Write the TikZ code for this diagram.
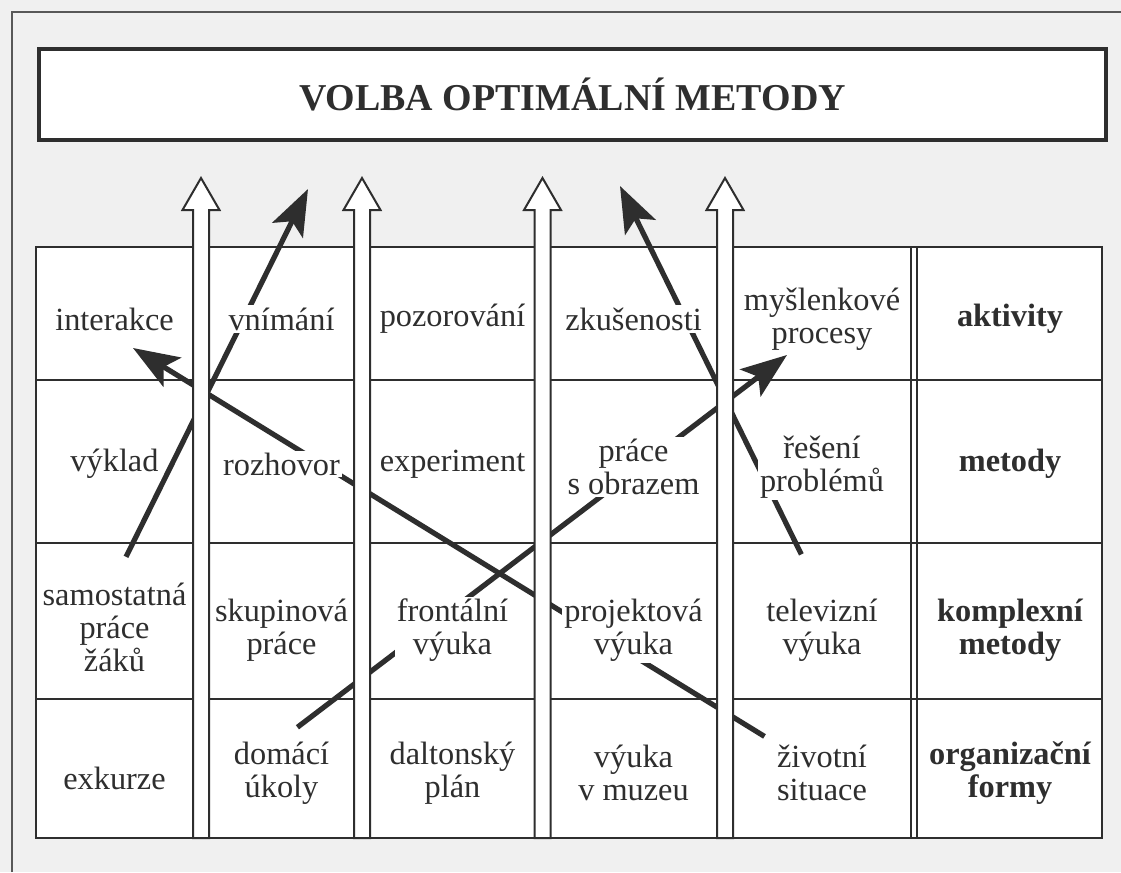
\documentclass[tikz,border=0pt]{standalone}
\usepackage{fontspec}
\setmainfont{Liberation Serif}
\usetikzlibrary{arrows.meta}

\pgfdeclarelayer{paper}
\pgfdeclarelayer{links}
\pgfdeclarelayer{front}
\pgfsetlayers{paper,links,main,front}

\colorlet{inkcol}{black!82}
\colorlet{papercol}{black!6}
\newcommand{\cellfont}{\fontsize{23}{23.5}\selectfont}
\newcommand{\titlefont}{\fontsize{27}{30}\selectfont\bfseries}

\tikzset{
  px/.style={x=0.25mm, y=-0.25mm},
  gridline/.style={draw=inkcol, line width=0.5mm},
  cellt/.style={font=\cellfont, text=inkcol, align=center, fill=white,
                inner sep=1.5pt},
  headt/.style={cellt, font=\cellfont\bfseries},
  titlebox/.style={draw=inkcol, fill=white, line width=0.8mm,
                   minimum width=266.75mm, minimum height=22.75mm,
                   font=\titlefont, text=inkcol},
  up arrow/.style={draw=inkcol, fill=white, line width=0.5mm},
  link arrow/.style={-{Stealth[length=11.5mm, width=8.5mm, inset=2.5mm]},
                     draw=inkcol, line width=1.3mm},
}

\begin{document}
\begin{tikzpicture}[px]
    % units are pixels of the 1121 x 872 page, y grows downwards
    \useasboundingbox (0,0) rectangle (1121,872);

    % table: x 36--1102, y 247--838
    % column centres 114.5 / 281.5 / 452.5 / 633.5 / 822 / 1010
    % row lines at 380, 543, 699
    \def\cola{114.5} \def\colb{281.5} \def\colc{452.5}
    \def\cold{633.5} \def\cole{822}   \def\colf{1010}
    \def\rowa{319} \def\rowb{464} \def\rowc{630} \def\rowd{773}

    \begin{pgfonlayer}{paper}
      \fill[papercol] (0,0) rectangle (1121,872);
      \draw[draw=inkcol!80, line width=0.5mm] (12,872) -- (12,12) -- (1121,12);
      \fill[white] (36,247) rectangle (1102,838);
      \foreach \ry in {380,543,699} {
        \draw[gridline] (36,\ry) -- (1102,\ry);
      }
      \draw[gridline] (911,247) -- (911,838);
      \draw[gridline] (917,247) -- (917,838);
      \draw[gridline, line width=0.7mm] (36,247) rectangle (1102,838);
    \end{pgfonlayer}

    % === Title ===
    \node[titlebox] (title) at (572.5,94.5) {VOLBA OPTIMÁLNÍ METODY};

    % === Row 1: aktivity ===
    \node[cellt] (interakce)  at (\cola,\rowa) {interakce};
    \node[cellt] (vnimani)    at (\colb,\rowa) {vnímání};
    \node[cellt] (pozorovani) at (\colc,\rowa) {pozorování};
    \node[cellt] (zkusenosti) at (\cold,\rowa) {zkušenosti};
    \node[cellt] (myslenky)   at (\cole,\rowa) {myšlenkové\\procesy};
    \node[headt] (aktivity)   at (\colf,\rowa) {aktivity};

    % === Row 2: metody ===
    \node[cellt] (vyklad)     at (\cola,\rowb) {výklad};
    \node[cellt] (rozhovor)   at (\colb,\rowb) {rozhovor};
    \node[cellt] (experiment) at (\colc,\rowb) {experiment};
    \node[cellt] (obraz)      at (\cold,\rowb+3) {práce\\s obrazem};
    \node[cellt] (problemy)   at (\cole,\rowb+3) {řešení\\problémů};
    \node[headt] (metody)     at (\colf,\rowb) {metody};

    % === Row 3: komplexni metody ===
    \node[cellt] (samost)     at (\cola,\rowc-3) {samostatná\\práce\\žáků};
    \node[cellt] (skupina)    at (\colb,\rowc) {skupinová\\práce};
    \node[cellt] (frontal)    at (\colc,\rowc) {frontální\\výuka};
    \node[cellt] (projekt)    at (\cold,\rowc) {projektová\\výuka};
    \node[cellt] (televize)   at (\cole,\rowc) {televizní\\výuka};
    \node[headt] (komplex)    at (\colf,\rowc) {komplexní\\metody};

    % === Row 4: organizacni formy ===
    \node[cellt] (exkurze)    at (\cola,\rowd+5) {exkurze};
    \node[cellt] (domaci)     at (\colb,\rowd) {domácí\\úkoly};
    \node[cellt] (dalton)     at (\colc,\rowd) {daltonský\\plán};
    \node[cellt] (muzeum)     at (\cold,\rowd) {výuka\\v muzeu};
    \node[cellt] (situace)    at (\cole,\rowd) {životní\\situace};
    \node[headt] (formy)      at (\colf,\rowd) {organizační\\formy};

    % free ends of the black arrows
    \coordinate (tipA) at (308,189);
    \coordinate (tipB) at (133,348);
    \coordinate (tipC) at (787,355);
    \coordinate (tipD) at (620,186);

    % black arrows run behind the cell texts and the white arrows
    \begin{pgfonlayer}{links}
      \draw[link arrow, shorten <=6.5mm] (samost.north) -- (tipA);
      \draw[link arrow, shorten <=3mm]   (situace.north west) -- (tipB);
      \draw[link arrow, shorten <=5mm]   (domaci.north) -- (tipC);
      \draw[link arrow, shorten <=11.7mm] (televize.north) -- (tipD);
    \end{pgfonlayer}

    % === white arrows: shaft 16 wide, head 37 wide, tip at y=178 ===
    \begin{pgfonlayer}{front}
      \foreach \ax in {201,362,542.5,725} {
        \draw[up arrow] ({\ax-8},838) -- ({\ax-8},210) -- ({\ax-18.5},210)
          -- (\ax,178) -- ({\ax+18.5},210) -- ({\ax+8},210)
          -- ({\ax+8},838) -- cycle;
      }
    \end{pgfonlayer}

\end{tikzpicture}
\end{document}
